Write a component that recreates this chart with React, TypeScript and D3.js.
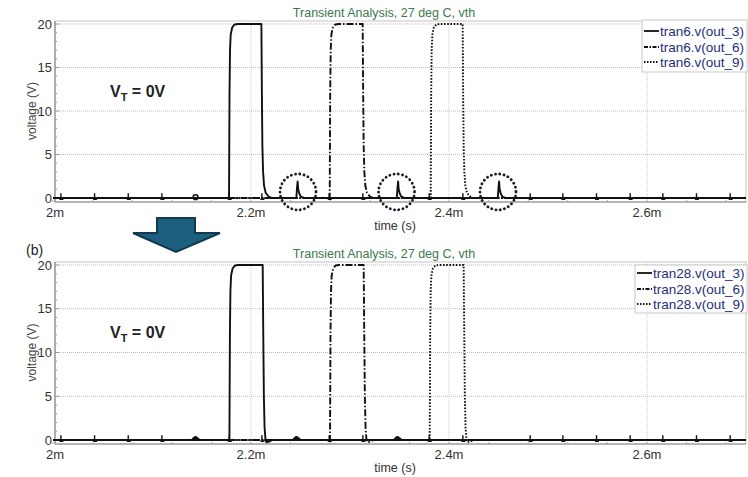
import React from "react";
import * as d3 from "d3";

// ---------- data ----------
const T_DOMAIN: [number, number] = [2.0, 2.7];
const X_TICKS = [2.0, 2.2, 2.4, 2.6];
const X_TICK_LABELS = ["2m", "2.2m", "2.4m", "2.6m"];
const Y_TICKS = [0, 5, 10, 15, 20];
const TITLE = "Transient Analysis, 27 deg C, vth";

const TOP_NAMES = ["tran6.v(out_3)", "tran6.v(out_6)", "tran6.v(out_9)"];
const BOT_NAMES = ["tran28.v(out_3)", "tran28.v(out_6)", "tran28.v(out_9)"];

type P = [number, number];

// top panel (tran6): pulses with glitches after each falling edge
const TOP_OUT3: P[] = [
  [2.0, 0], [2.1778, 0], [2.1783, 12], [2.1788, 17], [2.1795, 18.8], [2.181, 19.6], [2.1835, 19.95], [2.187, 20],
  [2.2105, 20], [2.211, 12], [2.2115, 6], [2.2122, 3], [2.2132, 1.4], [2.2148, 0.6], [2.2175, 0.2], [2.221, 0],
  [2.2458, 0], [2.2465, 1.2], [2.2471, 1.9], [2.2477, 1.0], [2.2488, 0.5], [2.2503, 0.15], [2.2535, 0],
  [2.3473, 0], [2.348, 1.2], [2.3486, 1.9], [2.3492, 1.0], [2.3503, 0.5], [2.3518, 0.15], [2.355, 0],
  [2.4493, 0], [2.45, 1.2], [2.4506, 1.9], [2.4512, 1.0], [2.4523, 0.5], [2.4538, 0.15], [2.457, 0],
  [2.7, 0],
];
const TOP_OUT6: P[] = [
  [2.0, 0], [2.2795, 0], [2.28, 12], [2.2805, 17], [2.2812, 18.8], [2.2827, 19.6], [2.2852, 19.95], [2.2887, 20],
  [2.3128, 20], [2.3133, 12], [2.3138, 6], [2.3145, 3], [2.3155, 1.4], [2.3171, 0.6], [2.3198, 0.2], [2.3233, 0],
  [2.7, 0],
];
const TOP_OUT9: P[] = [
  [2.0, 0], [2.3815, 0], [2.382, 12], [2.3825, 17], [2.3832, 18.8], [2.3847, 19.6], [2.3872, 19.95], [2.3907, 20],
  [2.4138, 20], [2.4143, 12], [2.4148, 6], [2.4155, 3], [2.4165, 1.4], [2.4181, 0.6], [2.4208, 0.2], [2.4243, 0],
  [2.7, 0],
];

// bottom panel (tran28): clean pulses
const BOT_OUT3: P[] = [
  [2.0, 0], [2.1782, 0], [2.1787, 12], [2.1792, 17], [2.1799, 18.8], [2.1814, 19.6], [2.1839, 19.95], [2.1874, 20],
  [2.2118, 20], [2.2124, 12], [2.213, 5], [2.2137, 1.5], [2.2145, 0.2], [2.2155, -0.25], [2.218, -0.2], [2.222, 0],
  [2.7, 0],
];
const BOT_OUT6: P[] = [
  [2.0, 0], [2.2798, 0], [2.2803, 12], [2.2808, 17], [2.2815, 18.8], [2.283, 19.6], [2.2855, 19.95], [2.289, 20],
  [2.3138, 20], [2.3144, 12], [2.315, 5], [2.3157, 1.5], [2.3165, 0.2], [2.3175, -0.25], [2.32, -0.2], [2.324, 0],
  [2.7, 0],
];
const BOT_OUT9: P[] = [
  [2.0, 0], [2.3805, 0], [2.381, 12], [2.3815, 17], [2.3822, 18.8], [2.3837, 19.6], [2.3862, 19.95], [2.3897, 20],
  [2.4148, 20], [2.4154, 12], [2.416, 5], [2.4167, 1.5], [2.4175, 0.2], [2.4185, -0.25], [2.421, -0.2], [2.425, 0],
  [2.7, 0],
];

const CLOCK_TICKS = [
  2.008, 2.042, 2.076, 2.110, 2.178, 2.211, 2.279, 2.313, 2.380, 2.414,
  2.482, 2.515, 2.549, 2.583, 2.616, 2.650, 2.684,
];
const TOP_BUMPS = [2.143];
const BOT_BUMPS = [2.143, 2.245, 2.347];
const GLITCH_CIRCLES = [2.2475, 2.347, 2.4495];

// ---------- chart ----------
const FONT = "'Liberation Sans', Arial, sans-serif";
const DASHES = ["", "7,2,1.5,2", "1.6,1.6"];

type PanelProps = {
  yTop: number;
  yZero: number;
  names: string[];
  series: P[][];
  bumps: number[];
  circles: number[];
  legend: { x: number; y: number; w: number; h: number; rows: number[] };
  bumpStyle: "ring" | "blob";
};

const x = d3.scaleLinear().domain(T_DOMAIN).range([53, 746]);

function Panel({ yTop, yZero, names, series, bumps, circles, legend, bumpStyle }: PanelProps) {
  const y = d3.scaleLinear().domain([0, 20]).range([yZero, yTop]);
  const line = d3.line<P>().x((d) => x(d[0])).y((d) => y(d[1]));
  const left = 55;
  const right = 746;
  const frameTop = yTop - 3;
  const frameBot = yZero + 4;
  const minorY = d3.range(0, 21, 1);
  const minorX = d3.range(2.0, 2.7001, 0.04);
  const order = [2, 1, 0];
  return (
    <g>
      <text x={384} y={yTop - 7} textAnchor="middle" fontFamily={FONT} fontSize={12.5} fill="#3a7a4b">
        {TITLE}
      </text>
      {/* frame */}
      <rect x={left} y={frameTop} width={right - left} height={frameBot - frameTop} fill="none" stroke="#c4c4c4" strokeWidth={1} />
      {/* grid */}
      {Y_TICKS.map((v) => (
        <line key={"gy" + v} x1={left} x2={right} y1={y(v)} y2={y(v)} stroke="#bdbdbd" strokeWidth={1} strokeDasharray="1,1" />
      ))}
      {X_TICKS.slice(1).map((t) => (
        <line key={"gx" + t} x1={x(t)} x2={x(t)} y1={frameTop} y2={frameBot} stroke="#c6c6c6" strokeWidth={1} strokeDasharray="1,1" />
      ))}
      {/* axes */}
      <line x1={left} x2={left} y1={frameTop} y2={frameBot} stroke="#8a8a8a" strokeWidth={1.2} />
      <line x1={left} x2={right} y1={frameBot} y2={frameBot} stroke="#8a8a8a" strokeWidth={1.2} />
      {minorY.map((v) => (
        <line key={"my" + v} x1={left} x2={left + (v % 5 === 0 ? 4 : 2)} y1={y(v)} y2={y(v)} stroke="#999" strokeWidth={1} />
      ))}
      {minorX.map((t, i) => (
        <line key={"mx" + i} x1={x(t)} x2={x(t)} y1={frameBot} y2={frameBot - 2} stroke="#aaa" strokeWidth={1} />
      ))}
      {Y_TICKS.map((v) => (
        <text key={"ty" + v} x={52} y={y(v) + 4.5} textAnchor="end" fontFamily={FONT} fontSize={13} fill="#333">
          {v}
        </text>
      ))}
      {X_TICKS.map((t, i) => (
        <text key={"tx" + t} x={x(t) + (i === 0 ? 2 : 0)} y={frameBot + 15} textAnchor="middle" fontFamily={FONT} fontSize={13} fill="#333">
          {X_TICK_LABELS[i]}
        </text>
      ))}
      <text x={395} y={frameBot + 27.5} textAnchor="middle" fontFamily={FONT} fontSize={12.5} fill="#333">
        time (s)
      </text>
      <text
        transform={`translate(36,${y(10)}) rotate(-90)`}
        textAnchor="middle"
        fontFamily={FONT}
        fontSize={12}
        fill="#444"
      >
        voltage (V)
      </text>
      <text x={110} y={yTop + 73} fontFamily={FONT} fontSize={16} fontWeight="bold" fill="#222">
        V<tspan fontSize={11} dy={4}>T</tspan>
        <tspan dy={-4}> = 0V</tspan>
      </text>
      {/* series */}
      {order.map((i) => (
        <path
          key={"s" + i}
          d={line(series[i]) || ""}
          fill="none"
          stroke="#111"
          strokeWidth={1.9}
          strokeDasharray={DASHES[i]}
          strokeLinejoin="round"
        />
      ))}
      {/* clock ticks */}
      {CLOCK_TICKS.map((t, i) => (
        <path
          key={"ct" + i}
          d={`M${x(t)},${y(-0.2)}L${x(t)},${y(0.55)}M${x(t) - 1.5},${y(-0.15)}L${x(t) + 2.5},${y(-0.15)}`}
          stroke="#111"
          strokeWidth={1.4}
          fill="none"
        />
      ))}
      {bumps.map((t, i) =>
        bumpStyle === "ring" ? (
          <circle key={"b" + i} cx={x(t) + 1} cy={y(0.1)} r={2.4} fill="none" stroke="#111" strokeWidth={1.5} />
        ) : (
          <path
            key={"b" + i}
            d={`M${x(t) - 3},${y(0.05)}Q${x(t)},${y(0.6)} ${x(t) + 3},${y(0.3)}L${x(t) + 6},${y(0)}L${x(t) - 3},${y(-0.05)}Z`}
            fill="#111"
            stroke="#111"
            strokeWidth={1}
          />
        )
      )}
      {circles.map((t, i) => (
        <circle
          key={"c" + i}
          cx={x(t)}
          cy={y(0.7)}
          r={18}
          fill="none"
          stroke="#1a1a2e"
          strokeWidth={2.8}
          strokeDasharray="0.1,4.2"
          strokeLinecap="round"
        />
      ))}
      {/* legend */}
      <rect x={legend.x} y={legend.y} width={legend.w} height={legend.h} fill="#fff" stroke="#c8c8c8" strokeWidth={1} />
      {names.map((n, i) => (
        <g key={"l" + i}>
          <line
            x1={legend.x + 2}
            x2={legend.x + 17}
            y1={legend.rows[i]}
            y2={legend.rows[i]}
            stroke="#111"
            strokeWidth={1.8}
            strokeDasharray={i === 0 ? "" : i === 1 ? "4,1.5,1.5,1.5" : "1.5,1.5"}
          />
          <text x={legend.x + 18} y={legend.rows[i] + 4.5} fontFamily={FONT} fontSize={13.5} fill="#232f7a">
            {n}
          </text>
        </g>
      ))}
    </g>
  );
}

export default function App() {
  return (
    <svg width={748} height={477} style={{ position: "absolute", left: 0, top: 0, background: "#fff" }}>
      <rect x={0} y={0} width={748} height={477} fill="#fff" />
      <Panel
        yTop={24}
        yZero={198}
        names={TOP_NAMES}
        series={[TOP_OUT3, TOP_OUT6, TOP_OUT9]}
        bumps={TOP_BUMPS}
        circles={GLITCH_CIRCLES}
        legend={{ x: 642, y: 20, w: 105, h: 52, rows: [31, 47, 62] }}
        bumpStyle="ring"
      />
      {/* arrow */}
      <path d="M157,218 L195,218 L195,233 L220,233 L176,252 L133,233 L157,233 Z" fill="#1d5f7f" stroke="#0f3a52" strokeWidth={2} />
      <text x={26} y={255} fontFamily={FONT} fontSize={14} fill="#222">
        (b)
      </text>
      <Panel
        yTop={265}
        yZero={440}
        names={BOT_NAMES}
        series={[BOT_OUT3, BOT_OUT6, BOT_OUT9]}
        bumps={BOT_BUMPS}
        circles={[]}
        legend={{ x: 635, y: 265, w: 112, h: 48, rows: [273, 289, 304] }}
        bumpStyle="blob"
      />
    </svg>
  );
}
